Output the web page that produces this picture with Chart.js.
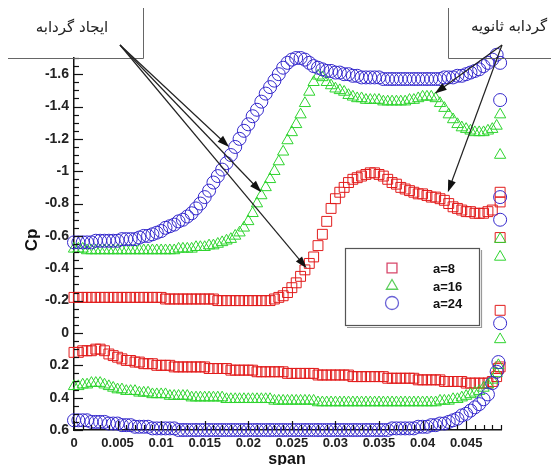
<!DOCTYPE html>
<html>
<head>
<meta charset="utf-8">
<script src="https://cdn.jsdelivr.net/npm/chart.js@4.4.0/dist/chart.umd.min.js"></script>
<style>
  body { margin: 0; background: #fff; }
</style>
</head>
<body>
<canvas id="cpChart" width="551" height="465"></canvas>
<script>
// span stations along the surface
const span = [
  0, 0.0005, 0.001, 0.0015, 0.002, 0.0025, 0.003, 0.0035, 0.004, 0.0045,
  0.005, 0.0055, 0.006, 0.0065, 0.007, 0.0075, 0.008, 0.0085, 0.009, 0.0095,
  0.01, 0.0105, 0.011, 0.0115, 0.012, 0.0125, 0.013, 0.0135, 0.014, 0.0145,
  0.015, 0.0155, 0.016, 0.0165, 0.017, 0.0175, 0.018, 0.0185, 0.019, 0.0195,
  0.02, 0.0205, 0.021, 0.0215, 0.022, 0.0225, 0.023, 0.0235, 0.024, 0.0245,
  0.025, 0.0255, 0.026, 0.0265, 0.027, 0.0275, 0.028, 0.0285, 0.029, 0.0295,
  0.03, 0.0305, 0.031, 0.0315, 0.032, 0.0325, 0.033, 0.0335, 0.034, 0.0345,
  0.035, 0.0355, 0.036, 0.0365, 0.037, 0.0375, 0.038, 0.0385, 0.039, 0.0395,
  0.04, 0.0405, 0.041, 0.0415, 0.042, 0.0425, 0.043, 0.0435, 0.044, 0.0445,
  0.045, 0.0455, 0.046, 0.0465, 0.047, 0.0475, 0.048
];

// a=8
const cp8Upper = [
  -0.22, -0.22, -0.22, -0.22, -0.22, -0.22, -0.22, -0.22, -0.22, -0.22,
  -0.22, -0.22, -0.22, -0.22, -0.22, -0.22, -0.22, -0.22, -0.22, -0.22,
  -0.22, -0.21, -0.21, -0.21, -0.21, -0.21, -0.21, -0.21, -0.21, -0.21,
  -0.21, -0.21, -0.21, -0.20, -0.20, -0.20, -0.20, -0.20, -0.20, -0.20,
  -0.20, -0.20, -0.20, -0.20, -0.20, -0.20, -0.21, -0.22, -0.23, -0.25,
  -0.28, -0.31, -0.35, -0.39, -0.43, -0.47, -0.54, -0.61, -0.69, -0.77,
  -0.83, -0.87, -0.90, -0.93, -0.95, -0.96, -0.97, -0.98, -0.99, -0.99,
  -0.98, -0.97, -0.95, -0.93, -0.92, -0.90, -0.89, -0.88, -0.87, -0.86,
  -0.86, -0.85, -0.84, -0.84, -0.83, -0.82, -0.80, -0.78, -0.77, -0.76,
  -0.75, -0.75, -0.74, -0.74, -0.74, -0.75, -0.76
];
const cp8Lower = [
  0.12, 0.12, 0.11, 0.11, 0.11, 0.10, 0.10, 0.11, 0.13, 0.14,
  0.15, 0.16, 0.17, 0.17, 0.18, 0.18, 0.19, 0.19, 0.19, 0.20,
  0.20, 0.20, 0.20, 0.21, 0.21, 0.21, 0.21, 0.21, 0.21, 0.21,
  0.21, 0.22, 0.22, 0.22, 0.22, 0.22, 0.23, 0.23, 0.23, 0.23,
  0.23, 0.23, 0.24, 0.24, 0.24, 0.24, 0.24, 0.24, 0.24, 0.25,
  0.25, 0.25, 0.25, 0.25, 0.25, 0.25, 0.26, 0.26, 0.26, 0.26,
  0.26, 0.26, 0.26, 0.26, 0.27, 0.27, 0.27, 0.27, 0.27, 0.27,
  0.27, 0.27, 0.28, 0.28, 0.28, 0.28, 0.28, 0.28, 0.28, 0.29,
  0.29, 0.29, 0.29, 0.29, 0.29, 0.30, 0.30, 0.30, 0.30, 0.30,
  0.31, 0.31, 0.31, 0.31, 0.31, 0.31, 0.30
];
const tail8Span = [0.0485, 0.0487, 0.0489, 0.0489, 0.0489, 0.0489, 0.0489];
const tail8Cp = [0.27, 0.22, 0.21, -0.14, -0.59, -0.81, -0.87];

// a=16
const cp16Upper = [
  -0.52, -0.52, -0.52, -0.51, -0.51, -0.51, -0.51, -0.51, -0.51, -0.51,
  -0.51, -0.51, -0.51, -0.51, -0.51, -0.51, -0.51, -0.51, -0.51, -0.51,
  -0.51, -0.51, -0.51, -0.51, -0.52, -0.52, -0.52, -0.52, -0.53, -0.53,
  -0.53, -0.54, -0.54, -0.55, -0.56, -0.57, -0.58, -0.60, -0.62, -0.65,
  -0.69, -0.74, -0.80, -0.85, -0.90, -0.95, -1.00, -1.06, -1.12, -1.19,
  -1.24, -1.29, -1.35, -1.42, -1.49, -1.55, -1.59, -1.58, -1.55, -1.53,
  -1.51, -1.50, -1.49, -1.47, -1.46, -1.45, -1.45, -1.44, -1.44, -1.44,
  -1.44, -1.43, -1.43, -1.43, -1.43, -1.43, -1.43, -1.44, -1.44, -1.45,
  -1.46, -1.46, -1.46, -1.45, -1.42, -1.39, -1.35, -1.32, -1.29, -1.27,
  -1.26, -1.25, -1.24, -1.24, -1.24, -1.25, -1.26
];
const cp16Lower = [
  0.33, 0.33, 0.32, 0.32, 0.31, 0.31, 0.31, 0.32, 0.33, 0.34,
  0.35, 0.35, 0.36, 0.36, 0.36, 0.37, 0.37, 0.37, 0.38, 0.38,
  0.38, 0.38, 0.39, 0.39, 0.39, 0.39, 0.39, 0.40, 0.40, 0.40,
  0.40, 0.40, 0.40, 0.40, 0.40, 0.41, 0.41, 0.41, 0.41, 0.41,
  0.41, 0.41, 0.41, 0.41, 0.41, 0.41, 0.42, 0.42, 0.42, 0.42,
  0.42, 0.42, 0.42, 0.42, 0.42, 0.42, 0.43, 0.43, 0.43, 0.43,
  0.43, 0.43, 0.43, 0.43, 0.43, 0.43, 0.43, 0.43, 0.43, 0.43,
  0.43, 0.43, 0.43, 0.43, 0.43, 0.43, 0.43, 0.43, 0.43, 0.43,
  0.43, 0.43, 0.43, 0.43, 0.42, 0.42, 0.42, 0.41, 0.41, 0.40,
  0.39, 0.38, 0.37, 0.36, 0.34, 0.32, 0.29
];
const tail16Span = [0.0485, 0.0487, 0.0489, 0.0489, 0.0489, 0.0489, 0.0489, 0.0485];
const tail16Cp = [0.25, 0.20, 0.04, -0.47, -0.58, -1.10, -1.35, -1.28];

// a=24
const cp24Upper = [
  -0.56, -0.56, -0.56, -0.56, -0.56, -0.57, -0.57, -0.57, -0.57, -0.57,
  -0.57, -0.58, -0.58, -0.58, -0.58, -0.59, -0.60, -0.60, -0.61, -0.62,
  -0.63, -0.65, -0.66, -0.67, -0.69, -0.70, -0.72, -0.74, -0.77, -0.80,
  -0.84, -0.88, -0.93, -0.97, -1.01, -1.05, -1.10, -1.15, -1.20, -1.25,
  -1.29, -1.34, -1.38, -1.43, -1.48, -1.52, -1.56, -1.60, -1.64, -1.67,
  -1.69, -1.70, -1.70, -1.69, -1.67, -1.65, -1.64, -1.63, -1.62, -1.62,
  -1.61, -1.61, -1.60, -1.60, -1.59, -1.59, -1.58, -1.58, -1.58, -1.58,
  -1.58, -1.57, -1.57, -1.57, -1.57, -1.57, -1.57, -1.57, -1.57, -1.57,
  -1.57, -1.57, -1.57, -1.57, -1.57, -1.58, -1.58, -1.58, -1.59, -1.59,
  -1.60, -1.61, -1.62, -1.63, -1.65, -1.67, -1.69
];
const cp24Lower = [
  0.54, 0.54, 0.54, 0.54, 0.55, 0.55, 0.55, 0.55, 0.56, 0.56,
  0.56, 0.57, 0.57, 0.57, 0.58, 0.58, 0.58, 0.58, 0.59, 0.59,
  0.59, 0.59, 0.59, 0.59, 0.60, 0.60, 0.60, 0.60, 0.60, 0.60,
  0.60, 0.60, 0.60, 0.60, 0.60, 0.60, 0.60, 0.60, 0.60, 0.60,
  0.60, 0.60, 0.60, 0.60, 0.60, 0.60, 0.60, 0.60, 0.60, 0.60,
  0.60, 0.60, 0.60, 0.60, 0.60, 0.60, 0.60, 0.60, 0.60, 0.60,
  0.60, 0.60, 0.60, 0.60, 0.60, 0.60, 0.60, 0.60, 0.60, 0.60,
  0.60, 0.60, 0.60, 0.59, 0.59, 0.59, 0.59, 0.59, 0.59, 0.58,
  0.58, 0.58, 0.57, 0.57, 0.56, 0.56, 0.55, 0.54, 0.53, 0.51,
  0.50, 0.48, 0.46, 0.44, 0.41, 0.38, 0.31
];
const tail24Span = [0.0485, 0.0487, 0.0489, 0.0489, 0.0489, 0.0489, 0.0489, 0.0485, 0.0489];
const tail24Cp = [0.24, 0.18, -0.06, -0.70, -0.84, -1.44, -1.67, -1.72, -1.75];

const seriesLabels = ['a=8', 'a=16', 'a=24'];
const xTicks = [0, 0.005, 0.01, 0.015, 0.02, 0.025, 0.03, 0.035, 0.04, 0.045];
const xTickLabels = ['0', '0.005', '0.01', '0.015', '0.02', '0.025', '0.03', '0.035', '0.04', '0.045'];
const yTicks = [-1.6, -1.4, -1.2, -1, -0.8, -0.6, -0.4, -0.2, 0, 0.2, 0.4, 0.6];
const yTickLabels = ['-1.6', '-1.4', '-1.2', '-1', '-0.8', '-0.6', '-0.4', '-0.2', '0', '0.2', '0.4', '0.6'];

// annotation arrow tips, in data units
const vortexTips = [[0.0178, -1.15], [0.0215, -0.87], [0.0267, -0.40]];
const secondaryTips = [[0.0414, -1.48], [0.0429, -0.87]];

const points = (xs, ...ys) => {
  const out = [];
  for (const y of ys) {
    for (let i = 0; i < y.length; i++) out.push({x: xs[i], y: y[i]});
  }
  return out;
};
const tail = (xs, ys) => xs.map((v, i) => ({x: v, y: ys[i]}));

const colors = ['#e21c1c', '#2fd42f', '#3428cc'];
const legendColors = ['#d8476a', '#5ccf5c', '#6a62d6'];
const styles = ['rect', 'triangle', 'circle'];
const radii = [7, 6.5, 6.5];

const data = {
  datasets: [
    {label: seriesLabels[0], data: points(span, cp8Upper, cp8Lower).concat(tail(tail8Span, tail8Cp)), order: 2},
    {label: seriesLabels[1], data: points(span, cp16Upper, cp16Lower).concat(tail(tail16Span, tail16Cp)), order: 1},
    {label: seriesLabels[2], data: points(span, cp24Upper, cp24Lower).concat(tail(tail24Span, tail24Cp)), order: 0}
  ].map((d, i) => Object.assign(d, {
    pointStyle: styles[i],
    pointRadius: radii[i],
    pointBorderWidth: 1,
    borderColor: colors[i],
    backgroundColor: 'rgba(0,0,0,0)',
    showLine: false,
    clip: false
  }))
};

let arrow = (ctx, x1, y1, x2, y2) => {
  const ang = Math.atan2(y2 - y1, x2 - x1);
  ctx.beginPath();
  ctx.moveTo(x1, y1);
  ctx.lineTo(x2 - 9 * Math.cos(ang), y2 - 9 * Math.sin(ang));
  ctx.stroke();
  ctx.beginPath();
  ctx.moveTo(x2, y2);
  ctx.lineTo(x2 - 12 * Math.cos(ang) + 4 * Math.sin(ang), y2 - 12 * Math.sin(ang) - 4 * Math.cos(ang));
  ctx.lineTo(x2 - 12 * Math.cos(ang) - 4 * Math.sin(ang), y2 - 12 * Math.sin(ang) + 4 * Math.cos(ang));
  ctx.closePath();
  ctx.fill();
};

const decor = {
  id: 'decor',
  afterDraw(chart) {
    const {ctx, chartArea: a} = chart;
    const x = chart.scales.x, y = chart.scales.y;
    ctx.save();

    // inward ticks, major and minor
    ctx.strokeStyle = '#111';
    ctx.lineWidth = 1.2;
    for (let k = -34; k <= 12; k++) {
      const py = Math.round(y.getPixelForValue(k * 0.05)) + 0.5;
      const len = k % 4 === 0 ? 9 : 5;
      ctx.beginPath();
      ctx.moveTo(a.left, py);
      ctx.lineTo(a.left + len, py);
      ctx.stroke();
    }
    for (let k = 0; k <= 49; k++) {
      const px = Math.round(x.getPixelForValue(k * 0.001)) + 0.5;
      const len = k % 5 === 0 ? 9 : 5;
      ctx.beginPath();
      ctx.moveTo(px, a.bottom);
      ctx.lineTo(px, a.bottom - len);
      ctx.stroke();
    }

    // axis titles
    ctx.fillStyle = '#111';
    ctx.font = 'bold 17px "Liberation Sans", Arial, sans-serif';
    ctx.textAlign = 'center';
    ctx.textBaseline = 'middle';
    ctx.save();
    ctx.translate(32, 240);
    ctx.rotate(-Math.PI / 2);
    ctx.fillText('Cp', 0, 0);
    ctx.restore();
    ctx.font = 'bold 16px "Liberation Sans", Arial, sans-serif';
    ctx.textBaseline = 'alphabetic';
    ctx.fillText('span', 287, 464);

    // annotation boxes
    ctx.strokeStyle = '#666';
    ctx.lineWidth = 1;
    ctx.beginPath();
    ctx.moveTo(8, 58.5); ctx.lineTo(143.5, 58.5); ctx.lineTo(143.5, 8);
    ctx.moveTo(448.5, 8); ctx.lineTo(448.5, 58.5); ctx.lineTo(551, 58.5);
    ctx.stroke();

    ctx.fillStyle = '#222';
    ctx.font = '15px "DejaVu Sans", sans-serif';
    ctx.textBaseline = 'middle';
    ctx.fillText('ایجاد گردابه', 72, 28);
    ctx.fillText('گردابه ثانویه', 509, 27);

    // arrows
    ctx.strokeStyle = '#222';
    ctx.fillStyle = '#111';
    ctx.lineWidth = 1.2;
    for (const t of vortexTips) {
      arrow(ctx, 120, 45, x.getPixelForValue(t[0]), y.getPixelForValue(t[1]));
    }
    for (const t of secondaryTips) {
      arrow(ctx, 502, 45, x.getPixelForValue(t[0]), y.getPixelForValue(t[1]));
    }

    // legend
    ctx.fillStyle = '#fff';
    ctx.fillRect(345.5, 248.5, 134, 77);
    ctx.strokeStyle = '#999';
    ctx.beginPath();
    ctx.moveTo(347, 327.5); ctx.lineTo(481.5, 327.5); ctx.lineTo(481.5, 250);
    ctx.stroke();
    ctx.strokeStyle = '#555';
    ctx.strokeRect(345.5, 248.5, 134, 77);
    const rowY = [268, 286, 303];
    chart.data.datasets.forEach((d, i) => {
      ctx.strokeStyle = legendColors[i];
      ctx.fillStyle = 'rgba(0,0,0,0)';
      ctx.lineWidth = 1.3;
      Chart.helpers.drawPoint(ctx, {pointStyle: d.pointStyle, radius: d.pointRadius, borderWidth: 1.3}, 392, rowY[i]);
      ctx.fillStyle = '#111';
      ctx.font = 'bold 13px "Liberation Sans", Arial, sans-serif';
      ctx.textAlign = 'left';
      ctx.fillText(d.label, 433, rowY[i] + 1);
    });
    ctx.restore();
  }
};

new Chart(document.getElementById('cpChart'), {
  type: 'scatter',
  data: data,
  options: {
    responsive: false,
    animation: false,
    events: [],
    devicePixelRatio: 1,
    layout: {padding: {top: 58, right: 50, left: 0, bottom: 0}},
    plugins: {legend: {display: false}, tooltip: {enabled: false}},
    scales: {
      x: {
        type: 'linear',
        min: 0,
        max: 0.049,
        afterFit: (s) => { s.height = 35; },
        afterBuildTicks: (s) => { s.ticks = xTicks.map(v => ({value: v})); },
        grid: {display: true, drawOnChartArea: false, drawTicks: false},
        border: {display: true, color: '#111', width: 1.5},
        ticks: {
          padding: 6,
          maxRotation: 0,
          color: '#222',
          font: {family: '"Liberation Sans", Arial, sans-serif', size: 13, weight: 'bold'},
          callback: (v, i) => xTickLabels[i]
        }
      },
      y: {
        type: 'linear',
        reverse: true,
        min: -1.7,
        max: 0.6,
        afterFit: (s) => { s.width = 74; },
        afterBuildTicks: (s) => { s.ticks = yTicks.map(v => ({value: v})); },
        grid: {display: true, drawOnChartArea: false, drawTicks: false},
        border: {display: true, color: '#111', width: 1.5},
        ticks: {
          padding: 5,
          color: '#222',
          font: {family: '"Liberation Sans", Arial, sans-serif', size: 14, weight: 'bold'},
          callback: (v, i) => yTickLabels[i]
        }
      }
    }
  },
  plugins: [decor]
});
</script>
</body>
</html>
